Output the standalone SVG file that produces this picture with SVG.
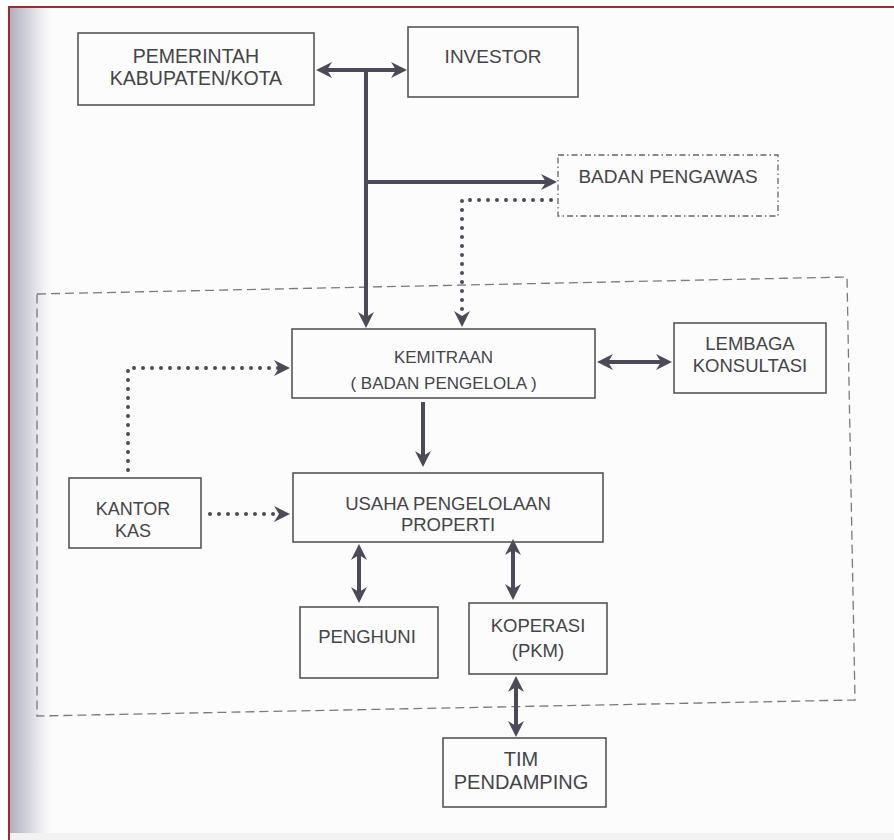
<svg xmlns="http://www.w3.org/2000/svg" width="894" height="840" viewBox="0 0 894 840">
<style>
.box{fill:none;stroke:#555;stroke-width:1.6}
.dd{fill:none;stroke:#666;stroke-width:1.3;stroke-dasharray:6 3 1.5 3}
.frame{fill:none;stroke:#7a7a7a;stroke-width:1.3;stroke-dasharray:9 5}
.t{font-family:"Liberation Sans",Arial,sans-serif;font-size:18px;fill:#444449;text-anchor:middle}
.s{font-size:17px}
.solid{fill:none;stroke:#4a4a58;stroke-width:4}
.dot{fill:none;stroke:#4a4a58;stroke-width:4;stroke-linecap:round;stroke-dasharray:0 9}
</style>
<defs>
<linearGradient id="shade" x1="0" y1="0" x2="1" y2="0">
<stop offset="0" stop-color="#aeaebc"/>
<stop offset="0.4" stop-color="#cfcfd9"/>
<stop offset="0.8" stop-color="#f0f0f4"/>
<stop offset="1" stop-color="#fcfcfc"/>
</linearGradient>
<marker id="ah" viewBox="0 0 16 16" refX="8" refY="8" markerWidth="16" markerHeight="16" markerUnits="userSpaceOnUse" orient="auto-start-reverse">
<path d="M0,0 L16,8 L0,16 L5,8 z" fill="#4a4a58"/>
</marker>
</defs>
<rect x="0" y="0" width="894" height="840" fill="#ffffff"/>
<rect x="9" y="7" width="885" height="833" fill="#fcfcfc"/>
<rect x="9" y="7" width="42" height="833" fill="url(#shade)"/>
<rect x="9" y="833" width="885" height="7" fill="#f2f2f2"/>
<path d="M9,840 L9,7 L894,7" fill="none" stroke="#9a2a3a" stroke-width="2"/>

<g id="container">
<path class="frame" d="M37,294 L847,277 L855,700 L37,716 Z"/>
</g>

<g id="connectors">
<path class="solid" d="M324,70 L399,70" marker-start="url(#ah)" marker-end="url(#ah)"/>
<path class="solid" d="M366,70 L366,320" marker-end="url(#ah)"/>
<path class="solid" d="M366,182 L549,182" marker-end="url(#ah)"/>
<path class="dot" d="M551,200 L462,200 L462,318"/>
<path class="solid" d="M462,318 L462,319" marker-end="url(#ah)" stroke-width="0"/>
<path class="solid" d="M605,362 L664,362" marker-start="url(#ah)" marker-end="url(#ah)"/>
<path class="solid" d="M423,402 L423,459" marker-end="url(#ah)"/>
<path class="dot" d="M128,470 L128,368 L280,368"/>
<path class="solid" d="M281,368 L282,368" marker-end="url(#ah)" stroke-width="0"/>
<path class="dot" d="M210,514 L280,514"/>
<path class="solid" d="M281,514 L282,514" marker-end="url(#ah)" stroke-width="0"/>
<path class="solid" d="M359,552 L359,595" marker-start="url(#ah)" marker-end="url(#ah)"/>
<path class="solid" d="M513,547 L513,592" marker-start="url(#ah)" marker-end="url(#ah)"/>
<path class="solid" d="M516,684 L516,729" marker-start="url(#ah)" marker-end="url(#ah)"/>
</g>

<g id="pemerintah">
<rect class="box" x="78" y="33" width="236" height="72"/>
<text class="t" x="196" y="63" style="font-size:19.5px">PEMERINTAH</text>
<text class="t" x="196" y="85" style="font-size:19.5px">KABUPATEN/KOTA</text>
</g>
<g id="investor">
<rect class="box" x="408" y="27" width="170" height="70"/>
<text class="t" x="493" y="63" style="font-size:19px">INVESTOR</text>
</g>
<g id="badan-pengawas">
<rect class="dd" x="558" y="155" width="220" height="61"/>
<text class="t" x="668" y="183" style="font-size:19px">BADAN PENGAWAS</text>
</g>
<g id="kemitraan">
<rect class="box" x="292" y="329" width="303" height="69"/>
<text class="t s" x="443.5" y="363">KEMITRAAN</text>
<text class="t s" x="443.5" y="389">( BADAN PENGELOLA )</text>
</g>
<g id="lembaga-konsultasi">
<rect class="box" x="674" y="323" width="152" height="70"/>
<text class="t" x="750" y="350" style="font-size:18.5px">LEMBAGA</text>
<text class="t" x="750" y="372" style="font-size:18.5px">KONSULTASI</text>
</g>
<g id="usaha">
<rect class="box" x="293" y="473" width="310" height="69"/>
<text class="t" x="448" y="510" style="font-size:18.5px">USAHA PENGELOLAAN</text>
<text class="t" x="448" y="531" style="font-size:18.5px">PROPERTI</text>
</g>
<g id="kantor-kas">
<rect class="box" x="69" y="478" width="132" height="70"/>
<text class="t" x="133" y="515">KANTOR</text>
<text class="t" x="133" y="537">KAS</text>
</g>
<g id="penghuni">
<rect class="box" x="300" y="607" width="138" height="71"/>
<text class="t" x="367" y="643" style="font-size:18.5px">PENGHUNI</text>
</g>
<g id="koperasi">
<rect class="box" x="469" y="603" width="138" height="71"/>
<text class="t" x="538" y="632" style="font-size:18.5px">KOPERASI</text>
<text class="t" x="538" y="657" style="font-size:18.5px">(PKM)</text>
</g>
<g id="tim-pendamping">
<rect class="box" x="443" y="738" width="163" height="69"/>
<text class="t" x="521" y="766" style="font-size:20px">TIM</text>
<text class="t" x="521" y="789" style="font-size:20px">PENDAMPING</text>
</g>
</svg>
